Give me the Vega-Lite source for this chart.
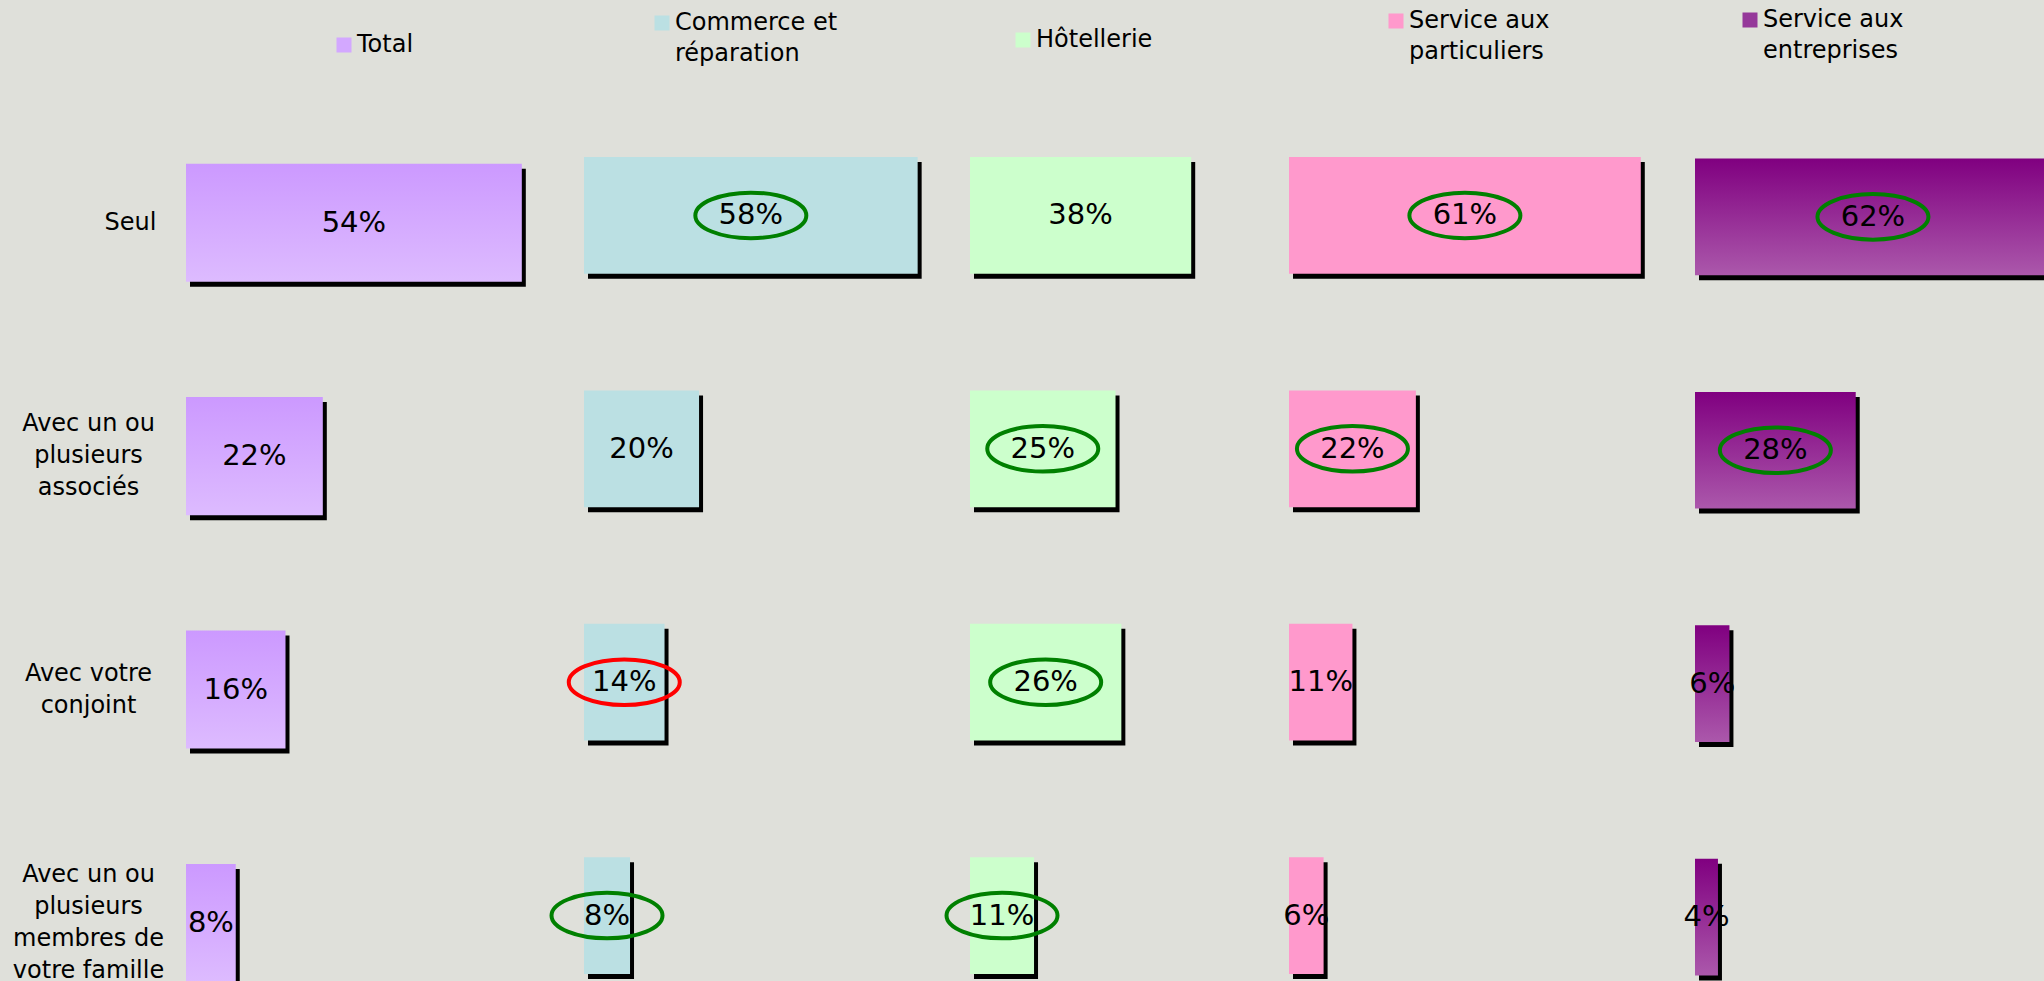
{
  "$schema": "https://vega.github.io/schema/vega-lite/v6.json",
  "background": "#dfe0da",
  "padding": {"left": 12, "top": 8, "right": 0, "bottom": 0},
  "autosize": {"type": "pad"},
  "spacing": 0,
  "bounds": "flush",
  "config": {
    "view": {"stroke": null},
    "font": "DejaVu Sans",
    "style": {"guide-label": {"lineHeight": 31}},
    "legend": {"padding": 0, "labelFont": "DejaVu Sans", "labelFontSize": 24, "labelColor": "black", "labelLimit": 400, "labelOffset": 1, "symbolType": "square", "symbolSize": 225, "symbolStrokeWidth": 0, "title": null, "orient": "none"}
  },
  "data": {
    "values": [
      {"secteur": "Total", "avec": "Seul", "part": 0.54, "signif": ""},
      {"secteur": "Total", "avec": "Avec un ou plusieurs associés", "part": 0.22, "signif": ""},
      {"secteur": "Total", "avec": "Avec votre conjoint", "part": 0.16, "signif": ""},
      {"secteur": "Total", "avec": "Avec un ou plusieurs membres de votre famille", "part": 0.08, "signif": ""},
      {"secteur": "Commerce et réparation", "avec": "Seul", "part": 0.58, "signif": "plus"},
      {"secteur": "Commerce et réparation", "avec": "Avec un ou plusieurs associés", "part": 0.20, "signif": ""},
      {"secteur": "Commerce et réparation", "avec": "Avec votre conjoint", "part": 0.14, "signif": "moins"},
      {"secteur": "Commerce et réparation", "avec": "Avec un ou plusieurs membres de votre famille", "part": 0.08, "signif": "plus"},
      {"secteur": "Hôtellerie", "avec": "Seul", "part": 0.38, "signif": ""},
      {"secteur": "Hôtellerie", "avec": "Avec un ou plusieurs associés", "part": 0.25, "signif": "plus"},
      {"secteur": "Hôtellerie", "avec": "Avec votre conjoint", "part": 0.26, "signif": "plus"},
      {"secteur": "Hôtellerie", "avec": "Avec un ou plusieurs membres de votre famille", "part": 0.11, "signif": "plus"},
      {"secteur": "Service aux particuliers", "avec": "Seul", "part": 0.61, "signif": "plus"},
      {"secteur": "Service aux particuliers", "avec": "Avec un ou plusieurs associés", "part": 0.22, "signif": "plus"},
      {"secteur": "Service aux particuliers", "avec": "Avec votre conjoint", "part": 0.11, "signif": ""},
      {"secteur": "Service aux particuliers", "avec": "Avec un ou plusieurs membres de votre famille", "part": 0.06, "signif": ""},
      {"secteur": "Service aux entreprises", "avec": "Seul", "part": 0.62, "signif": "plus"},
      {"secteur": "Service aux entreprises", "avec": "Avec un ou plusieurs associés", "part": 0.28, "signif": "plus"},
      {"secteur": "Service aux entreprises", "avec": "Avec votre conjoint", "part": 0.06, "signif": ""},
      {"secteur": "Service aux entreprises", "avec": "Avec un ou plusieurs membres de votre famille", "part": 0.04, "signif": ""}
    ]
  },
  "transform": [{"calculate": "datum.part / 2", "as": "mid"}],
  "resolve": {"scale": {"color": "independent"}, "legend": {"color": "independent"}},
  "hconcat": [
    {
      "width": 398, "height": 883,
      "transform": [{"filter": "datum.secteur == 'Total'"}],
      "encoding": {
        "y": {"field": "avec", "type": "nominal",
          "sort": ["Seul", "Avec un ou plusieurs associés", "Avec votre conjoint", "Avec un ou plusieurs membres de votre famille"],
          "scale": {"paddingInner": 0.494, "paddingOuter": 0.1385, "align": 1},
          "axis": {"title": null, "domain": false, "ticks": false, "tickSize": 0, "labelAlign": "center", "labelFont": "DejaVu Sans", "labelFontSize": 24, "labelColor": "black", "labelLineHeight": 32, "labelLimit": 400,
            "labelPadding": {"expr": "datum.value == 'Seul' ? 56 : 98"},
            "labelOffset": {"expr": "datum.value == 'Avec un ou plusieurs associés' ? -32 : datum.value == 'Avec votre conjoint' ? -16 : datum.value == 'Avec un ou plusieurs membres de votre famille' ? -48 : 0"},
            "labelExpr": "datum.value == 'Avec un ou plusieurs associés' ? ['Avec un ou', 'plusieurs', 'associés'] : datum.value == 'Avec votre conjoint' ? ['Avec votre', 'conjoint'] : datum.value == 'Avec un ou plusieurs membres de votre famille' ? ['Avec un ou', 'plusieurs', 'membres de', 'votre famille'] : datum.value"}
        }
      },
      "layer": [
        {"mark": {"type": "bar", "color": "black", "xOffset": 4, "x2Offset": 4, "yOffset": 5, "y2Offset": 5, "clip": true},
         "encoding": {"x": {"field": "part", "type": "quantitative", "scale": {"domain": [0, 0.64]}, "axis": null}}},
        {"mark": {"type": "bar", "clip": true, "fill": {"gradient": "linear", "x1": 0, "y1": 0, "x2": 0, "y2": 1, "stops": [{"offset": 0, "color": "#cc99ff"}, {"offset": 1, "color": "#ddbbff"}]}},
         "encoding": {"x": {"field": "part", "type": "quantitative", "scale": {"domain": [0, 0.64]}, "axis": null}}},
        {"mark": {"type": "text", "fontSize": 29, "color": "black", "font": "DejaVu Sans"},
         "encoding": {"x": {"field": "mid", "type": "quantitative", "scale": {"domain": [0, 0.64]}, "axis": null}, "text": {"field": "part", "type": "quantitative", "format": ".0%"}}},
        {"mark": {"type": "text", "text": ""},
         "encoding": {"color": {"field": "secteur", "type": "nominal", "scale": {"range": ["#d3a8ff"]}, "legend": {"legendX": 146, "legendY": -66}}}}
      ]
    },
    {
      "width": 386, "height": 883,
      "transform": [{"filter": "datum.secteur == 'Commerce et réparation'"}],
      "encoding": {
        "y": {"field": "avec", "type": "nominal",
          "sort": ["Seul", "Avec un ou plusieurs associés", "Avec votre conjoint", "Avec un ou plusieurs membres de votre famille"],
          "scale": {"paddingInner": 0.5, "paddingOuter": 0.1417, "align": 0.878}, "axis": null}
      },
      "layer": [
        {"mark": {"type": "bar", "color": "black", "xOffset": 4, "x2Offset": 4, "yOffset": 5, "y2Offset": 5, "clip": true},
         "encoding": {"x": {"field": "part", "type": "quantitative", "scale": {"domain": [0, 0.671]}, "axis": null}}},
        {"mark": {"type": "bar", "clip": true, "fill": "#bbe0e3"},
         "encoding": {"x": {"field": "part", "type": "quantitative", "scale": {"domain": [0, 0.671]}, "axis": null}}},
        {"mark": {"type": "text", "fontSize": 29, "color": "black", "font": "DejaVu Sans"},
         "encoding": {"x": {"field": "mid", "type": "quantitative", "scale": {"domain": [0, 0.671]}, "axis": null}, "text": {"field": "part", "type": "quantitative", "format": ".0%"}}},
        {"transform": [{"filter": "datum.signif != ''"}],
         "mark": {"type": "point", "shape": "M -1 0 A 1 0.41 0 1 0 1 0 A 1 0.41 0 1 0 -1 0 Z", "size": 12321, "strokeWidth": 4, "filled": false, "opacity": 1},
         "encoding": {"x": {"field": "mid", "type": "quantitative", "scale": {"domain": [0, 0.671]}, "axis": null}, "stroke": {"field": "signif", "type": "nominal", "scale": {"domain": ["plus", "moins"], "range": ["#008000", "#ff0000"]}, "legend": null}}},
        {"mark": {"type": "text", "text": ""},
         "encoding": {"color": {"field": "secteur", "type": "nominal", "scale": {"range": ["#bbe0e3"]}, "legend": {"legendX": 66, "legendY": -88, "labelExpr": "['Commerce et', 'réparation']"}}}}
      ]
    },
    {
      "width": 319, "height": 883,
      "transform": [{"filter": "datum.secteur == 'Hôtellerie'"}],
      "encoding": {
        "y": {"field": "avec", "type": "nominal",
          "sort": ["Seul", "Avec un ou plusieurs associés", "Avec votre conjoint", "Avec un ou plusieurs membres de votre famille"],
          "scale": {"paddingInner": 0.5, "paddingOuter": 0.1417, "align": 0.878}, "axis": null}
      },
      "layer": [
        {"mark": {"type": "bar", "color": "black", "xOffset": 4, "x2Offset": 4, "yOffset": 5, "y2Offset": 5, "clip": true},
         "encoding": {"x": {"field": "part", "type": "quantitative", "scale": {"domain": [0, 0.548]}, "axis": null}}},
        {"mark": {"type": "bar", "clip": true, "fill": "#ccffcc"},
         "encoding": {"x": {"field": "part", "type": "quantitative", "scale": {"domain": [0, 0.548]}, "axis": null}}},
        {"mark": {"type": "text", "fontSize": 29, "color": "black", "font": "DejaVu Sans"},
         "encoding": {"x": {"field": "mid", "type": "quantitative", "scale": {"domain": [0, 0.548]}, "axis": null}, "text": {"field": "part", "type": "quantitative", "format": ".0%"}}},
        {"transform": [{"filter": "datum.signif != ''"}],
         "mark": {"type": "point", "shape": "M -1 0 A 1 0.41 0 1 0 1 0 A 1 0.41 0 1 0 -1 0 Z", "size": 12321, "strokeWidth": 4, "filled": false, "opacity": 1},
         "encoding": {"x": {"field": "mid", "type": "quantitative", "scale": {"domain": [0, 0.548]}, "axis": null}, "stroke": {"field": "signif", "type": "nominal", "scale": {"domain": ["plus", "moins"], "range": ["#008000", "#ff0000"]}, "legend": null}}},
        {"mark": {"type": "text", "text": ""},
         "encoding": {"color": {"field": "secteur", "type": "nominal", "scale": {"range": ["#ccffcc"]}, "legend": {"legendX": 41, "legendY": -71}}}}
      ]
    },
    {
      "width": 406, "height": 883,
      "transform": [{"filter": "datum.secteur == 'Service aux particuliers'"}],
      "encoding": {
        "y": {"field": "avec", "type": "nominal",
          "sort": ["Seul", "Avec un ou plusieurs associés", "Avec votre conjoint", "Avec un ou plusieurs membres de votre famille"],
          "scale": {"paddingInner": 0.5, "paddingOuter": 0.1417, "align": 0.878}, "axis": null}
      },
      "layer": [
        {"mark": {"type": "bar", "color": "black", "xOffset": 4, "x2Offset": 4, "yOffset": 5, "y2Offset": 5, "clip": true},
         "encoding": {"x": {"field": "part", "type": "quantitative", "scale": {"domain": [0, 0.704]}, "axis": null}}},
        {"mark": {"type": "bar", "clip": true, "fill": "#ff99cc"},
         "encoding": {"x": {"field": "part", "type": "quantitative", "scale": {"domain": [0, 0.704]}, "axis": null}}},
        {"mark": {"type": "text", "fontSize": 29, "color": "black", "font": "DejaVu Sans"},
         "encoding": {"x": {"field": "mid", "type": "quantitative", "scale": {"domain": [0, 0.704]}, "axis": null}, "text": {"field": "part", "type": "quantitative", "format": ".0%"}}},
        {"transform": [{"filter": "datum.signif != ''"}],
         "mark": {"type": "point", "shape": "M -1 0 A 1 0.41 0 1 0 1 0 A 1 0.41 0 1 0 -1 0 Z", "size": 12321, "strokeWidth": 4, "filled": false, "opacity": 1},
         "encoding": {"x": {"field": "mid", "type": "quantitative", "scale": {"domain": [0, 0.704]}, "axis": null}, "stroke": {"field": "signif", "type": "nominal", "scale": {"domain": ["plus", "moins"], "range": ["#008000", "#ff0000"]}, "legend": null}}},
        {"mark": {"type": "text", "text": ""},
         "encoding": {"color": {"field": "secteur", "type": "nominal", "scale": {"range": ["#ff99cc"]}, "legend": {"legendX": 95, "legendY": -90, "labelExpr": "['Service aux', 'particuliers']"}}}}
      ]
    },
    {
      "width": 349, "height": 883,
      "transform": [{"filter": "datum.secteur == 'Service aux entreprises'"}],
      "encoding": {
        "y": {"field": "avec", "type": "nominal",
          "sort": ["Seul", "Avec un ou plusieurs associés", "Avec votre conjoint", "Avec un ou plusieurs membres de votre famille"],
          "scale": {"paddingInner": 0.5, "paddingOuter": 0.1417, "align": 0.9}, "axis": null}
      },
      "layer": [
        {"mark": {"type": "bar", "color": "black", "xOffset": 4, "x2Offset": 4, "yOffset": 5, "y2Offset": 5, "clip": true},
         "encoding": {"x": {"field": "part", "type": "quantitative", "scale": {"domain": [0, 0.608]}, "axis": null}}},
        {"mark": {"type": "bar", "clip": true, "fill": {"gradient": "linear", "x1": 0, "y1": 0, "x2": 0, "y2": 1, "stops": [{"offset": 0, "color": "#800080"}, {"offset": 1, "color": "#ab58ab"}]}},
         "encoding": {"x": {"field": "part", "type": "quantitative", "scale": {"domain": [0, 0.608]}, "axis": null}}},
        {"mark": {"type": "text", "fontSize": 29, "color": "black", "font": "DejaVu Sans"},
         "encoding": {"x": {"field": "mid", "type": "quantitative", "scale": {"domain": [0, 0.608]}, "axis": null}, "text": {"field": "part", "type": "quantitative", "format": ".0%"}}},
        {"transform": [{"filter": "datum.signif != ''"}],
         "mark": {"type": "point", "shape": "M -1 0 A 1 0.41 0 1 0 1 0 A 1 0.41 0 1 0 -1 0 Z", "size": 12321, "strokeWidth": 4, "filled": false, "opacity": 1},
         "encoding": {"x": {"field": "mid", "type": "quantitative", "scale": {"domain": [0, 0.608]}, "axis": null}, "stroke": {"field": "signif", "type": "nominal", "scale": {"domain": ["plus", "moins"], "range": ["#008000", "#ff0000"]}, "legend": null}}},
        {"mark": {"type": "text", "text": ""},
         "encoding": {"color": {"field": "secteur", "type": "nominal", "scale": {"range": ["#95389a"]}, "legend": {"legendX": 43, "legendY": -91, "labelExpr": "['Service aux', 'entreprises']"}}}}
      ]
    }
  ]
}
